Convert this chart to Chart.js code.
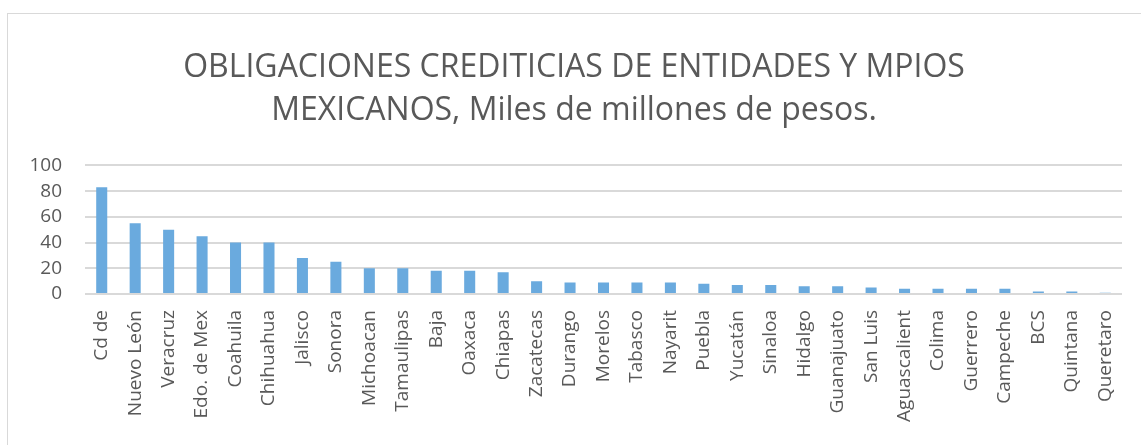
<!DOCTYPE html>
<html>
<head>
<meta charset="utf-8">
<title>Obligaciones crediticias</title>
<script src="https://cdn.jsdelivr.net/npm/chart.js@4.4.0/dist/chart.umd.min.js"></script>
<style>
  html, body { margin: 0; padding: 0; background: #fff; overflow: hidden; }
  .frame {
    position: absolute; left: 7px; top: 13px;
    width: 1200px; height: 500px;
    border: 1px solid #d9d9d9;
  }
  .wrap { position: absolute; left: 0; top: 0; width: 1141px; height: 445px; }
</style>
</head>
<body>
<div class="frame"></div>
<div class="wrap"><canvas id="chart" width="1141" height="445"></canvas></div>
<script>
// estados / municipios, miles de millones de pesos
const states = [
  'Cd de', 'Nuevo León', 'Veracruz', 'Edo. de Mex', 'Coahuila', 'Chihuahua',
  'Jalisco', 'Sonora', 'Michoacan', 'Tamaulipas', 'Baja', 'Oaxaca', 'Chiapas',
  'Zacatecas', 'Durango', 'Morelos', 'Tabasco', 'Nayarit', 'Puebla', 'Yucatán',
  'Sinaloa', 'Hidalgo', 'Guanajuato', 'San Luis', 'Aguascalient', 'Colima',
  'Guerrero', 'Campeche', 'BCS', 'Quintana', 'Queretaro'
];
const obligaciones = [
  83, 55, 50, 45, 40, 40,
  28, 25, 20, 20, 18, 18, 17,
  10, 9, 9, 9, 9, 8, 7,
  7, 6, 6, 5, 4, 4,
  4, 4, 2, 2, 1
];
const titleLines = [
  'OBLIGACIONES CREDITICIAS DE ENTIDADES Y MPIOS',
  'MEXICANOS, Miles de millones de pesos.'
];

const TEXT = '#595959';
const GRID = '#d9d9d9';

new Chart(document.getElementById('chart'), {
  type: 'bar',
  data: {
    labels: states,
    datasets: [{
      data: obligaciones,
      backgroundColor: '#6aaade',
      borderWidth: 0,
      barPercentage: 0.33,
      categoryPercentage: 1.0,
    }]
  },
  options: {
    responsive: false,
    animation: false,
    // left padding nudges the title right; y labels must stay inside it
    layout: { padding: { left: 26, right: 19, top: 0, bottom: 0 } },
    plugins: {
      legend: { display: false },
      tooltip: { enabled: false },
      title: {
        display: true,
        text: titleLines,
        color: TEXT,
        font: { family: 'Open Sans', size: 32, weight: 'normal', lineHeight: 1.35 },
        padding: { top: 46, bottom: 33 },
      }
    },
    scales: {
      x: {
        grid: { display: false },
        border: { display: false },
        ticks: {
          color: TEXT,
          font: { family: 'Open Sans', size: 19 },
          minRotation: 90,
          maxRotation: 90,
          autoSkip: false,
          padding: 8,
        },
        afterFit: (scale) => { scale.height = 151; },
      },
      y: {
        min: 0,
        max: 100,
        grid: { color: GRID, lineWidth: 2, drawTicks: false },
        border: { display: false },
        ticks: {
          stepSize: 20,
          autoSkip: false,
          color: TEXT,
          font: { family: 'Open Sans', size: 19 },
          padding: 23,
        },
        afterFit: (scale) => { scale.width = 59; },
      }
    }
  }
});
</script>
</body>
</html>
